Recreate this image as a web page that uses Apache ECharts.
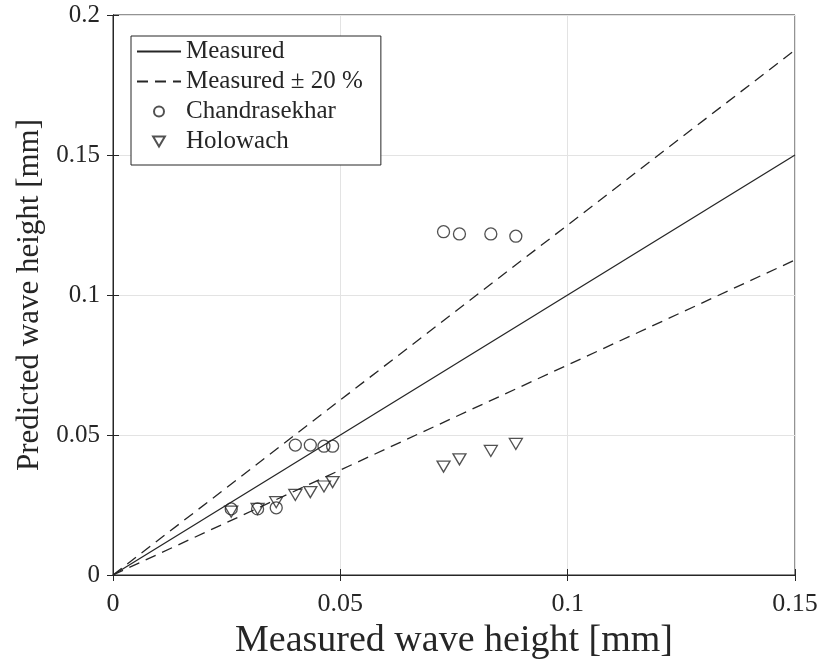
<!DOCTYPE html>
<html>
<head>
<meta charset="utf-8">
<script src="https://cdn.jsdelivr.net/npm/echarts@6/dist/echarts.min.js"></script>
<style>
  html, body { margin: 0; padding: 0; background: #fff; }
  #chart { width: 824px; height: 669px; }
</style>
</head>
<body>
<div id="chart"></div>
<script>
// Measured wave heights of the test cases [mm]
var measured = [0.026, 0.0318, 0.0359, 0.0401, 0.0434, 0.0464, 0.0483, 0.0727, 0.0762, 0.0831, 0.0886];
// Predictions by each model [mm]
var chandrasekhar = [0.0236, 0.0236, 0.024, 0.0464, 0.0464, 0.046, 0.046, 0.1226, 0.1218, 0.1218, 0.121];
var holowach = [0.0226, 0.0236, 0.026, 0.0286, 0.0296, 0.0316, 0.0332, 0.0387, 0.0413, 0.0443, 0.0468];

// Reference lines: perfect agreement and the tolerance band
var refX = [0, 0.15];
var upperFactor = 1.25;
var lowerFactor = 0.75;

var xTicks = [0, 0.05, 0.1, 0.15];
var yTicks = [0, 0.05, 0.1, 0.15, 0.2];

function pairs(xs, ys) {
  return xs.map(function (x, i) { return [x, ys[i]]; });
}

var font = '"Liberation Serif", "Times New Roman", serif';
var ink = '#262626';
var downTriangle = 'path://M0,0 L20,0 L10,17 Z';

function tickFormatter(list) {
  return function (v) {
    var r = +v.toFixed(2);
    return list.indexOf(r) >= 0 ? String(r) : '';
  };
}

var chart = echarts.init(document.getElementById('chart'));
chart.setOption({
  backgroundColor: '#fff',
  animation: false,
  textStyle: { fontFamily: font },
  grid: {
    left: 113, right: 29, top: 15, bottom: 94,
    show: true, borderColor: ink, borderWidth: 1, backgroundColor: 'transparent'
  },
  legend: {
    orient: 'vertical',
    left: 131, top: 36,
    padding: [3, 18, 11, 5],
    itemGap: 5,
    itemWidth: 44, itemHeight: 10,
    borderColor: ink, borderWidth: 1,
    backgroundColor: '#fff',
    textStyle: { fontFamily: font, fontSize: 25, color: ink },
    data: [
      { name: 'Measured', itemStyle: { opacity: 0 } },
      { name: 'Measured ± 20 %', itemStyle: { opacity: 0 } },
      { name: 'Chandrasekhar' },
      { name: 'Holowach', icon: downTriangle }
    ]
  },
  xAxis: [{
    type: 'value', min: 0, max: 0.15, interval: 0.05,
    name: 'Measured wave height [mm]',
    nameLocation: 'middle', nameGap: 40,
    nameTextStyle: { fontFamily: font, fontSize: 38, color: ink },
    axisLine: { show: true, lineStyle: { color: ink } },
    axisTick: { show: true, inside: true, length: 6, lineStyle: { color: ink } },
    axisLabel: { fontFamily: font, fontSize: 26, color: ink, margin: 16, formatter: tickFormatter(xTicks) },
    splitLine: { show: true, lineStyle: { color: '#e3e3e3', width: 1 } }
  }, {
    type: 'value', min: 0, max: 0.15, interval: 0.05, position: 'top',
    axisLine: { show: true, lineStyle: { color: ink } },
    axisTick: { show: true, inside: true, length: 6, lineStyle: { color: ink } },
    axisLabel: { show: false }, splitLine: { show: false }
  }],
  yAxis: [{
    type: 'value', min: 0, max: 0.2, interval: 0.05,
    name: 'Predicted wave height [mm]',
    nameLocation: 'middle', nameGap: 66,
    nameTextStyle: { fontFamily: font, fontSize: 31, color: ink },
    axisLine: { show: true, lineStyle: { color: ink } },
    axisTick: { show: true, inside: true, length: 6, lineStyle: { color: ink } },
    axisLabel: { fontFamily: font, fontSize: 25, color: ink, margin: 13, formatter: tickFormatter(yTicks) },
    splitLine: { show: true, lineStyle: { color: '#e3e3e3', width: 1 } }
  }, {
    type: 'value', min: 0, max: 0.2, interval: 0.05, position: 'right',
    axisLine: { show: true, lineStyle: { color: ink } },
    axisTick: { show: true, inside: true, length: 6, lineStyle: { color: ink } },
    axisLabel: { show: false }, splitLine: { show: false }
  }],
  series: [
    {
      name: 'Measured', type: 'line', symbol: 'none',
      data: pairs(refX, refX),
      lineStyle: { color: ink, width: 1.3, type: 'solid' },
      itemStyle: { color: ink }
    },
    {
      name: 'Measured ± 20 %', type: 'line', symbol: 'none',
      data: pairs(refX, refX.map(function (x) { return x * upperFactor; })),
      lineStyle: { color: ink, width: 1.3, type: [11, 7] },
      itemStyle: { color: ink }
    },
    {
      name: 'Measured ± 20 %', type: 'line', symbol: 'none',
      data: pairs(refX, refX.map(function (x) { return x * lowerFactor; })),
      lineStyle: { color: ink, width: 1.3, type: [11, 7] },
      itemStyle: { color: ink }
    },
    {
      name: 'Chandrasekhar', type: 'scatter', symbol: 'circle', symbolSize: 12,
      data: pairs(measured, chandrasekhar),
      itemStyle: { color: 'rgba(255,255,255,0)', borderColor: ink, borderWidth: 1.3 },
      z: 3
    },
    {
      name: 'Holowach', type: 'scatter', symbol: downTriangle, symbolSize: [13, 11],
      data: pairs(measured, holowach),
      itemStyle: { color: 'rgba(255,255,255,0)', borderColor: ink, borderWidth: 1.3 },
      z: 4
    }
  ]
});
</script>
</body>
</html>
